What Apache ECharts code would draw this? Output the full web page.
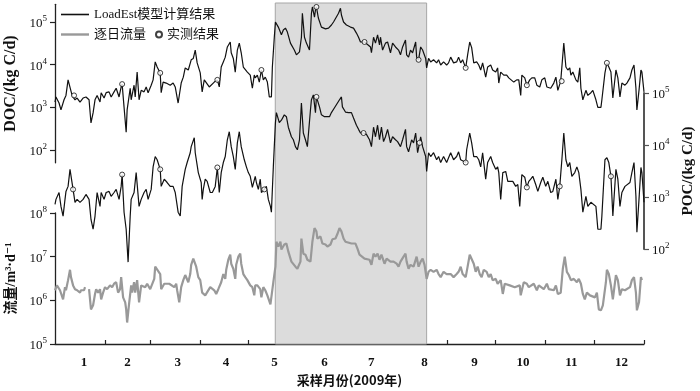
<!DOCTYPE html>
<html><head><meta charset="utf-8">
<script src="https://cdn.jsdelivr.net/npm/echarts@6/dist/echarts.min.js"></script>
<style>html,body{margin:0;padding:0;background:#fff}#c{width:700px;height:391px}</style>
</head><body><div id="c"></div>
<script>
// ---- data (day of year 2009, values) ----
const docDays = [0,0.6,2.5,3.7,5.6,6.8,8.1,9.3,10.6,12.4,13.7,15.5,17.4,19.2,21.1,22.3,23.6,24.8,26.1,27.9,28.6,30.4,31.7,33.5,34.8,36.6,37.9,39.7,41.0,41.6,42.8,44.1,44.7,46.6,47.2,49.0,49.7,50.9,52.1,53.4,55.2,56.5,57.7,59.6,60.8,62.1,63.3,65.2,65.8,67.0,68.9,71.4,73.2,74.5,76.3,78.2,79.5,80.7,82.6,84.4,85.7,86.9,88.1,90.0,91.2,92.5,93.7,95.6,96.8,98.7,100.6,101.8,103.0,104.3,105.5,106.8,108.6,109.2,110.5,111.7,113.0,114.2,115.4,116.7,117.9,119.2,121.0,122.3,123.5,124.1,125.4,126.6,127.9,129.1,130.3,131.6,132.8,134.1,134.7,135.9,136.6,138.4,140.3,141.5,142.8,144.0,145.9,147.1,148.3,149.6,151.5,152.7,153.3,154.6,155.8,157.7,158.9,159.5,160.8,161.4,162.0,163.2,165.1,166.3,167.6,169.5,171.3,172.6,173.8,175.7,176.9,177.5,178.8,180.6,183.1,185.0,186.8,188.1,189.3,191.8,193.0,195.5,196.1,197.4,198.6,199.9,201.1,201.7,203.0,204.8,206.1,207.9,209.2,211.0,212.9,214.1,215.4,217.2,217.9,219.1,220.3,221.6,223.5,224.1,225.3,226.6,227.8,229.7,230.3,231.5,232.8,234.6,236.5,237.7,239.0,240.8,242.7,243.9,245.2,247.0,248.9,250.1,251.4,252.6,254.5,255.7,257.0,258.2,259.5,261.3,262.6,263.8,265.0,266.9,268.1,270.0,271.2,273.1,274.3,275.0,276.2,278.1,279.9,281.2,282.4,284.3,286.1,287.4,288.6,289.3,291.1,292.4,294.2,295.5,297.3,298.6,300.4,301.7,303.5,304.8,306.0,307.2,309.1,310.4,311.6,313.4,315.3,316.6,317.8,319.0,319.7,320.9,322.8,324.0,325.2,325.9,327.1,329.0,330.2,332.1,333.3,335.2,336.4,338.3,338.9,340.8,342.0,343.2,344.5,345.7,347.6,348.8,350.1,351.3,353.2,354.4,356.3,357.5,358.8,360.0,360.6,361.9,363.1,363.7,365.0];
const docValues = [1330,1750,1260,870,1500,1900,4400,4900,1900,1500,1650,1330,1650,1750,1500,430,740,1500,1900,1330,2200,1650,2200,2300,1750,2300,2800,1750,3000,3500,1000,260,870,2800,1500,3300,1750,6700,1500,2500,2300,3000,2200,3300,4400,11600,8800,6400,2200,3900,3700,3300,3700,3000,1260,3700,5100,8400,7500,13000,14000,22000,11000,6400,2300,4400,4900,3000,2800,3900,4400,3000,8800,11600,15000,26000,34000,19000,14000,6700,22000,32000,19000,8800,8400,6700,5700,2800,5700,4900,5700,3900,7500,4400,5100,3900,1750,1750,8800,44000,100000,76000,50000,65000,72000,58000,32000,32000,22000,17000,20000,44000,160000,44000,32000,22000,160000,225000,130000,190000,225000,124000,76000,72000,69000,72000,85000,100000,110000,160000,210000,146000,100000,85000,76000,72000,55000,44000,34000,34000,32000,26000,19000,44000,32000,50000,29000,44000,22000,32000,34000,19000,32000,26000,22000,17000,26000,38000,17000,15000,22000,19000,34000,15000,13000,26000,22000,14000,8400,14000,11600,13000,11000,13000,9800,11600,9800,11000,15000,11000,11600,15000,11000,13000,8400,17000,34000,25000,11000,11600,9800,7500,11000,5100,8800,9800,7500,6700,8400,3700,6700,5700,5700,4900,4900,3900,4400,4400,1900,5700,4900,3300,4400,4900,4900,3300,3000,4400,4900,3000,3300,2800,3700,5100,2500,4100,32000,8800,7500,8400,5700,6700,4400,3900,8400,2800,1500,2500,1900,2200,2500,1500,1000,1000,1500,6400,11000,8800,6700,1650,7500,4900,1750,3700,3300,3700,4900,7500,9800,2800,870,2500,7500,6700,2300];

const pocDays = [0,0.6,2.5,3.7,5.0,6.2,6.8,8.1,9.3,11.2,12.4,13.7,15.5,17.4,19.2,21.1,22.3,23.6,24.8,26.1,27.9,28.6,30.4,31.7,33.5,34.8,36.6,37.9,39.7,41.0,41.6,42.8,44.1,45.3,46.6,47.2,49.0,50.3,52.1,53.4,55.2,56.5,57.7,59.6,60.8,62.1,63.3,65.2,65.8,67.7,69.5,71.4,73.2,74.5,76.3,77.6,78.8,80.7,81.9,83.8,84.4,86.3,86.9,88.8,90.6,91.2,91.9,93.1,94.3,96.2,97.5,99.3,100.6,101.8,103.0,104.3,105.5,106.8,108.0,109.2,110.5,111.7,113.0,114.2,115.4,117.3,118.6,119.8,121.0,122.3,124.1,124.8,126.0,127.2,127.9,129.7,131.0,132.2,133.5,134.1,135.3,136.6,137.2,139.0,140.3,142.1,143.4,144.6,146.5,147.7,149.0,150.2,151.5,152.7,153.9,155.2,156.4,158.3,158.9,160.1,161.4,162.0,163.9,165.1,167.0,168.2,170.1,171.3,173.2,174.4,176.3,177.5,178.1,180.0,181.9,183.7,185.0,186.8,188.1,189.3,191.2,193.0,194.9,196.1,197.4,198.6,199.9,201.1,202.3,203.6,204.8,206.1,207.9,209.2,211.0,212.3,214.1,215.4,217.2,217.9,219.1,221.0,222.2,223.5,224.7,225.9,226.6,227.8,229.7,230.3,231.5,232.8,234.6,236.5,237.7,239.0,240.8,242.7,243.9,245.2,247.0,248.9,250.1,251.4,254.5,255.1,257.0,258.2,259.5,261.3,262.6,263.8,265.0,266.9,268.1,270.0,271.2,273.1,274.3,275.0,276.2,277.5,279.3,280.6,282.4,283.7,285.5,286.8,288.0,289.3,291.1,292.4,293.6,294.8,296.1,297.9,299.2,301.0,302.3,304.1,305.4,307.2,308.5,310.4,311.6,312.8,314.1,315.3,316.6,317.8,319.0,320.3,322.1,323.4,324.6,325.9,327.1,329.0,330.2,332.1,333.3,335.2,336.4,338.3,338.9,340.8,342.0,343.2,344.5,345.7,347.6,348.8,350.1,351.3,353.2,354.4,356.3,357.5,358.8,360.0,360.6,361.9,363.1,363.7,365.0];
const pocValues = [720,900,1220,660,430,900,1280,1600,3400,1400,790,900,790,900,1120,900,370,240,430,1220,660,1220,900,1220,1280,1030,1220,1400,900,1600,2700,510,240,56,430,900,1220,2950,660,900,1220,1400,900,1400,3800,6000,5200,3400,1600,2200,1900,1600,1600,1220,510,430,1600,3400,4600,7100,9300,13800,7100,2950,1900,900,1400,2200,2000,1220,1220,1600,3700,1220,2950,4600,6000,12600,18000,9300,6000,3400,11000,18000,9300,5200,3800,2950,2500,1530,2500,1900,1400,2200,1220,1400,1600,900,660,510,3800,27000,42000,27000,30000,38000,35000,22000,14400,12600,9300,8100,12600,64000,17000,12600,9300,47000,74000,92000,42000,84000,54000,38000,35000,38000,35000,42000,52000,54000,74000,84000,54000,43000,42000,42000,33000,24000,20000,17000,17000,16000,12600,9300,22000,14400,24000,12600,22000,11600,14400,20000,11000,14400,12600,11600,9300,12600,20000,9300,7400,12600,11000,17000,7100,11000,14400,9300,6000,3100,7100,6000,7100,5200,6000,4600,6000,4600,5700,7100,5200,6000,7400,5200,4600,8100,17000,11000,6000,6000,5200,3800,7100,2200,4600,6000,4600,3400,3800,2950,900,2950,3100,2000,2000,2000,1600,1740,660,2700,2400,1530,2000,2200,2500,1740,1280,1900,2400,1600,2000,1220,1280,2200,900,1600,5200,17000,5200,3800,4600,2500,2950,3800,2950,1400,510,1030,660,790,790,660,240,240,430,5200,5700,4600,2500,430,3400,2200,660,1220,1600,1600,1900,2950,4600,1030,210,900,3700,2950,790];

const flowDays = [0,1.2,3.1,4.3,5.0,6.2,6.8,8.1,9.3,9.9,11.2,12.4,13.7,15.5,16.1,18.0,18.6,19.5,21.1,22.3,23.6,24.8,25.5,26.7,27.9,28.6,29.8,31.0,32.3,34.1,35.4,36.6,37.9,39.1,40.3,41.0,42.2,43.5,44.1,44.7,46.0,47.2,47.8,49.0,49.7,50.9,52.1,53.4,54.6,55.9,57.1,59.0,59.6,61.5,62.1,63.3,65.2,65.8,67.7,68.9,70.8,72.0,73.9,75.1,75.7,77.0,78.2,79.5,80.7,81.3,82.6,83.8,84.4,85.7,86.9,87.5,88.8,90.0,91.2,93.1,94.3,96.2,96.8,98.7,99.9,101.2,102.4,103.0,104.3,105.5,106.1,107.4,108.6,109.2,110.5,111.7,112.3,113.6,114.8,115.4,116.7,117.9,119.2,121.0,122.3,123.5,124.1,125.4,127.2,127.9,129.1,130.3,131.6,133.5,134.1,135.3,136.6,137.2,138.4,139.7,140.3,142.1,143.4,144.6,146.5,147.7,149.0,150.2,152.1,152.7,153.9,155.2,156.4,158.3,159.5,160.8,162.0,162.6,164.5,165.7,167.6,168.8,170.7,171.9,173.8,175.0,176.3,177.5,178.8,180.0,181.2,183.7,186.2,187.5,188.7,189.9,191.8,193.0,194.9,196.1,197.4,198.6,199.9,201.1,202.3,204.2,205.5,206.7,207.9,209.8,211.7,212.9,214.1,216.0,217.2,217.9,219.1,220.3,222.2,224.1,225.3,226.6,227.8,229.0,230.3,231.5,232.8,234.6,236.5,237.7,239.0,240.8,242.7,243.9,245.2,247.0,248.9,250.1,251.4,252.6,254.5,255.7,257.0,258.2,259.5,260.7,261.9,263.2,264.4,265.7,267.5,268.8,270.0,271.2,273.1,274.3,276.2,277.5,278.7,279.9,281.8,283.0,284.9,286.1,288.0,288.6,290.5,292.4,293.6,294.8,296.7,298.6,299.8,301.0,302.9,304.8,306.0,307.2,309.1,310.4,311.6,312.8,313.4,314.7,315.9,317.2,318.4,319.7,321.5,323.4,324.6,325.9,327.1,328.3,329.6,331.5,332.7,334.6,335.8,337.0,338.3,339.5,341.4,342.0,343.2,344.5,345.7,347.6,348.8,350.1,351.3,353.2,354.4,356.3,357.5,358.8,360.0,360.6,361.9,363.1,363.7];
const flowValues = [1.7e6,2.2e6,1.7e6,1.8e6,1.05e6,2.0e6,1.7e6,2.9e6,5.0e6,3.4e6,2.2e6,1.8e6,1.7e6,1.5e6,1.7e6,1.7e6,2.0e6,null,1.8e6,6.2e5,7.7e5,1.4e6,1.8e6,1.5e6,1.8e6,1.05e6,1.5e6,2.0e6,1.8e6,2.2e6,2.0e6,2.4e6,2.6e6,1.5e6,1.8e6,3.4e6,1.17e6,9.0e5,6.2e5,3.1e5,9.0e5,2.2e6,1.5e6,2.6e6,1.5e6,2.9e6,9.0e5,2.2e6,2.4e6,2.0e6,2.4e6,1.8e6,2.0e6,3.1e6,5.9e6,6.5e6,4.0e6,1.8e6,2.4e6,2.2e6,2.4e6,2.4e6,2.0e6,2.4e6,1.7e6,9.0e5,2.0e6,2.9e6,3.8e6,4.0e6,2.6e6,4.0e6,6.5e6,9.0e6,1.0e7,5.9e6,3.4e6,2.9e6,1.5e6,1.3e6,1.4e6,2.0e6,2.2e6,1.7e6,1.4e6,1.8e6,1.7e6,2.6e6,4.0e6,3.1e6,5.0e6,8.5e6,1.11e7,6.9e6,5.3e6,3.1e6,6.5e6,1.0e7,1.17e7,6.9e6,4.0e6,3.4e6,2.9e6,2.2e6,2.0e6,1.3e6,2.2e6,2.2e6,1.8e6,1.17e6,2.0e6,1.7e6,1.3e6,8.1e5,7.7e5,2.6e6,5.9e6,2.2e7,1.7e7,2.2e7,1.46e7,1.9e7,2.0e7,1.3e7,7.7e6,8.5e6,5.9e6,5.3e6,7.7e6,2.6e7,1.17e7,1.11e7,8.5e6,7.7e6,2.2e7,4.5e7,3.8e7,2.6e7,2.9e7,2.0e7,1.9e7,1.7e7,1.9e7,2.5e7,2.6e7,3.3e7,4.5e7,3.8e7,2.6e7,2.2e7,2.2e7,2.0e7,2.0e7,1.5e7,1.11e7,1.11e7,9.0e6,9.0e6,8.5e6,6.5e6,1.17e7,1.0e7,1.17e7,8.5e6,1.11e7,6.9e6,9.0e6,1.0e7,7.7e6,7.7e6,6.9e6,5.9e6,7.7e6,1.0e7,1.17e7,7.7e6,5.3e6,6.5e6,5.9e6,1.0e7,5.9e6,7.7e6,9.0e6,6.5e6,3.1e6,4.5e6,5.0e6,4.5e6,5.0e6,4.0e6,3.4e6,4.5e6,4.0e6,3.8e6,4.0e6,3.4e6,4.0e6,4.5e6,5.9e6,4.0e6,3.4e6,5.9e6,1.11e7,1.0e7,6.9e6,4.5e6,5.9e6,4.0e6,3.4e6,5.0e6,4.5e6,3.4e6,4.0e6,2.9e6,3.1e6,2.4e6,2.9e6,1.4e6,2.4e6,2.4e6,2.2e6,2.2e6,2.0e6,1.8e6,2.2e6,1.3e6,2.6e6,2.4e6,2.0e6,2.2e6,2.4e6,1.7e6,2.2e6,2.2e6,1.8e6,2.4e6,1.8e6,1.7e6,1.7e6,2.2e6,1.4e6,1.5e6,1.5e6,5.3e6,1.0e7,4.5e6,3.8e6,2.9e6,3.1e6,2.6e6,3.1e6,2.4e6,1.4e6,1.05e6,1.5e6,1.3e6,1.3e6,1.17e6,1.5e6,6.2e5,5.9e5,7.7e5,2.6e6,5.0e6,4.0e6,2.2e6,1.05e6,3.8e6,2.9e6,1.3e6,1.8e6,1.7e6,1.7e6,2.0e6,2.9e6,3.4e6,1.5e6,5.9e5,9.0e5,3.4e6,2.9e6];

const docObsDays = [11.8,41.6,65.2,100.6,127.9,162.0,191.8,225.3,254.5,292.4,314.0,342.0];
const docObsValues = [1900,3500,6400,4400,7500,225000,34000,13000,8400,3300,4100,11000];
const pocObsDays = [11.2,41.6,65.2,100.6,129.7,162.0,191.2,225.9,254.5,292.4,312.8,344.5];
const pocObsValues = [1400,2700,3400,3700,1400,84000,17000,11000,4600,1530,1600,2500];

const monthEnds = [31,59,90,120,151,181,212,243,273,304,334,365];
const monthLabelDays = [18,45,76,106,136,167,196,229,260,290,320,351];
const monthLabels = ['1','2','3','4','5','6','7','8','9','10','11','12'];
const floodSeason = [136.5, 230.3];
const docTicks = [1e2,1e3,1e4,1e5];
const pocTicks = [1e2,1e3,1e4,1e5];
const flowTicks = [1e5,1e6,1e7,1e8];

// ---- chart ----
const zip = (a, b) => a.map((d, i) => [d, b[i]]);
const SERIF = "'Liberation Serif','DejaVu Serif','Noto Sans CJK SC',serif";
const CJK = "'Noto Sans CJK SC','Liberation Serif',sans-serif";
const supFmt = v => '{b|10}{s|' + Math.round(Math.log10(v)) + '}';
const supRich = {
  b: {fontFamily: SERIF, fontSize: 13, color: '#111', lineHeight: 16, verticalAlign: 'bottom'},
  s: {fontFamily: SERIF, fontSize: 9, color: '#111', lineHeight: 16, verticalAlign: 'top'}
};
const L = 55, R = 56;
function logAxis(grid, pos, min, max, ticks, extra) {
  return Object.assign({
    type: 'log', logBase: 10, gridIndex: grid, position: pos, min: min, max: max,
    axisLine: {show: true, onZero: false, lineStyle: {color: '#222', width: 1.3}},
    axisTick: {show: true, inside: false, length: 5, customValues: ticks, lineStyle: {color: '#222', width: 1.2}},
    axisLabel: {customValues: ticks, formatter: supFmt, rich: supRich, margin: 8},
    splitLine: {show: false}, minorTick: {show: false}
  }, extra || {});
}
const hiddenX = g => ({type: 'value', gridIndex: g, min: 0, max: 365, show: false});
const legendText = {fontFamily: SERIF, fontSize: 13, color: '#111'};

const chart = echarts.init(document.getElementById('c'), null, {renderer: 'canvas'});
chart.setOption({
  animation: false,
  backgroundColor: '#fff',
  grid: [
    {left: L, right: R, top: 3, height: 341, outerBoundsMode: 'none'},
    {left: L, right: R, top: 4.3, height: 158.5, outerBoundsMode: 'none'},
    {left: L, right: R, top: 93, height: 156, outerBoundsMode: 'none'},
    {left: L, right: R, top: 213, height: 131, outerBoundsMode: 'none'}
  ],
  xAxis: [
    hiddenX(0), hiddenX(1), hiddenX(2),
    {
      type: 'value', gridIndex: 3, min: 0, max: 365,
      axisLine: {show: true, onZero: false, lineStyle: {color: '#222', width: 1.3}},
      axisTick: {show: true, inside: true, length: 4, customValues: monthEnds, lineStyle: {color: '#222', width: 1.2}},
      axisLabel: {customValues: monthLabelDays, margin: 12,
        formatter: v => monthLabels[monthLabelDays.indexOf(v)] || '',
        fontFamily: SERIF, fontSize: 13, fontWeight: 'bold', color: '#111'},
      splitLine: {show: false},
      name: '采样月份(2009年)', nameLocation: 'middle', nameGap: 30,
      nameTextStyle: {fontFamily: CJK, fontSize: 13, fontWeight: 'bold', color: '#111'}
    }
  ],
  yAxis: [
    {type: 'value', gridIndex: 0, min: 0, max: 1, show: false},
    logAxis(1, 'left', 50, 260000, docTicks, {
      name: 'DOC/(kg C/d)', nameLocation: 'middle', nameGap: 34,
      nameTextStyle: {fontFamily: SERIF, fontSize: 16, fontWeight: 'bold', color: '#111'}
    }),
    logAxis(2, 'right', 100, 100000, pocTicks, {
      axisLine: {show: true, onZero: false, lineStyle: {color: '#555', width: 2}},
      axisTick: {show: true, inside: false, length: 5, customValues: pocTicks, lineStyle: {color: '#555', width: 1.2}},
      name: 'POC/(kg C/d)', nameLocation: 'middle', nameGap: 36, nameRotate: 90,
      nameTextStyle: {fontFamily: SERIF, fontSize: 15, fontWeight: 'bold', color: '#111'}
    }),
    logAxis(3, 'left', 1e5, 1e8, flowTicks, {
      name: '流量/m³·d⁻¹', nameLocation: 'middle', nameGap: 34,
      nameTextStyle: {fontFamily: "'Liberation Serif','DejaVu Serif','Noto Sans CJK SC',serif", fontSize: 14, fontWeight: 'bold', color: '#111'}
    })
  ],
  legend: [
    {left: 61, top: 8, padding: 0, icon: 'rect', itemWidth: 28, itemHeight: 1.6, data: ['LoadEst模型计算结果'],
      textStyle: legendText},
    {left: 61, top: 28, padding: 0, icon: 'rect', itemWidth: 28, itemHeight: 2.4, data: ['逐日流量'],
      textStyle: legendText},
    {left: 155, top: 28, padding: 0, itemWidth: 6, itemHeight: 6, data: ['实测结果'],
      textStyle: legendText}
  ],
  series: [
    {type: 'line', name: 'bg', xAxisIndex: 0, yAxisIndex: 0, data: [], silent: true,
      markArea: {silent: true, itemStyle: {color: '#dcdcdc', borderColor: '#a6a6a6', borderWidth: 1},
        data: [[{xAxis: floodSeason[0]}, {xAxis: floodSeason[1]}]]}},
    {type: 'line', name: '逐日流量', xAxisIndex: 3, yAxisIndex: 3, data: zip(flowDays, flowValues),
      symbol: 'none', clip: false, connectNulls: false,
      lineStyle: {color: '#999', width: 2.2}, itemStyle: {color: '#999'}},
    {type: 'line', name: 'LoadEst模型计算结果', xAxisIndex: 1, yAxisIndex: 1, data: zip(docDays, docValues),
      symbol: 'none', clip: false, lineStyle: {color: '#111', width: 1.2}, itemStyle: {color: '#111'}},
    {type: 'line', name: 'LoadEst模型计算结果', xAxisIndex: 2, yAxisIndex: 2, data: zip(pocDays, pocValues),
      symbol: 'none', clip: false, lineStyle: {color: '#111', width: 1.2}, itemStyle: {color: '#111'}},
    {type: 'scatter', name: '实测结果', xAxisIndex: 1, yAxisIndex: 1, data: zip(docObsDays, docObsValues),
      symbol: 'circle', symbolSize: 5, clip: false, z: 5,
      itemStyle: {color: '#fff', borderColor: '#111', borderWidth: 1}},
    {type: 'scatter', name: '实测结果', xAxisIndex: 2, yAxisIndex: 2, data: zip(pocObsDays, pocObsValues),
      symbol: 'circle', symbolSize: 5, clip: false, z: 5,
      itemStyle: {color: '#fff', borderColor: '#111', borderWidth: 1}}
  ]
});
</script>
</body></html>
